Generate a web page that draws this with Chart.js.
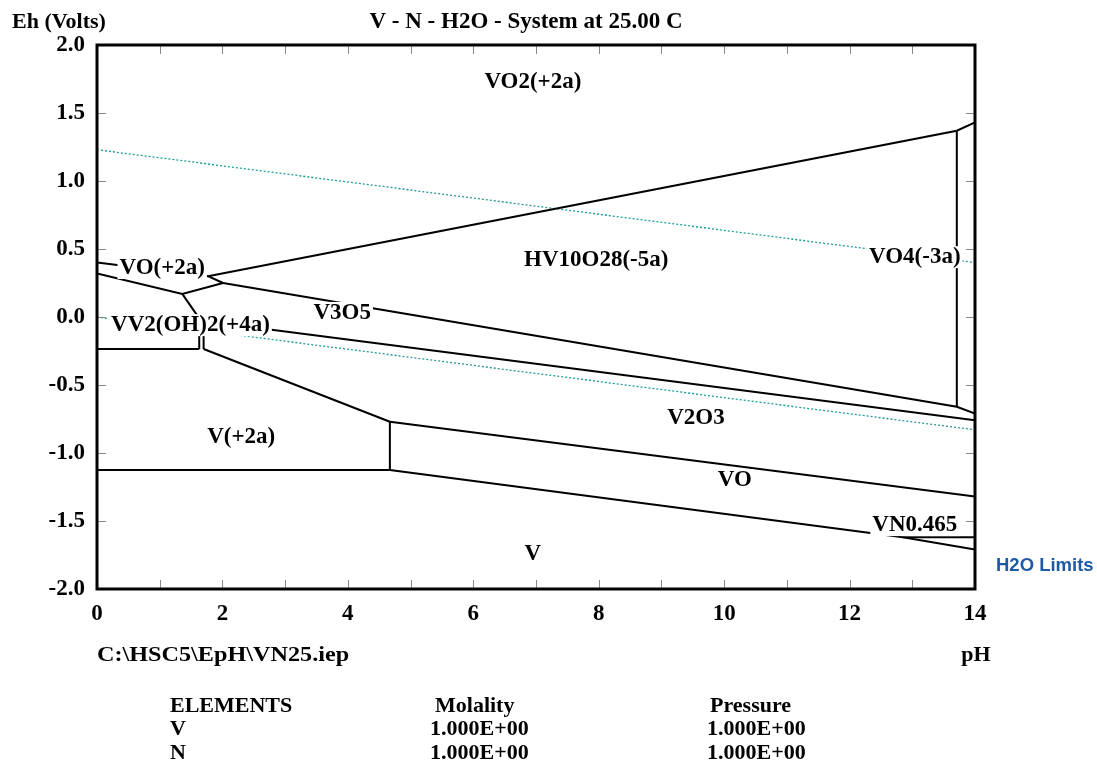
<!DOCTYPE html>
<html>
<head>
<meta charset="utf-8">
<script src="https://cdn.jsdelivr.net/npm/chart.js@4.4.0/dist/chart.umd.min.js"></script>
<style>
    html, body { margin: 0; padding: 0; background: #fff; }
    #wrap { width: 1097px; height: 763px; }
</style>
</head>
<body>
<div id="wrap"><canvas id="ephChart"></canvas></div>
<script>
// pH ticks / Eh ticks
var phTicks = [0, 2, 4, 6, 8, 10, 12, 14];
var ehTicks = [-2.0, -1.5, -1.0, -0.5, 0.0, 0.5, 1.0, 1.5, 2.0];

// stability boundaries, [pH, Eh]
var vo2_vo = [[0, 0.40], [1.77, 0.30]];
var vo2_hv10 = [[1.77, 0.30], [13.71, 1.37], [14, 1.43]];
var vo2_v3o5 = [[1.77, 0.30], [2.01, 0.25]];
var vo_v3o5 = [[0, 0.32], [1.36, 0.17], [2.01, 0.25]];
var hv10_v3o5 = [[2.01, 0.25], [13.71, -0.66], [14, -0.71]];
var hv10_vo4 = [[13.71, 1.37], [13.71, -0.66]];
var vo_vv2 = [[1.36, 0.17], [1.66, -0.03]];
var vv2_left = [[1.63, -0.03], [1.63, -0.235]];
var vv2_right = [[1.70, -0.03], [1.70, -0.235]];
var v3o5_v2o3 = [[1.70, -0.03], [14, -0.76]];
var vv2_v2a = [[0, -0.235], [1.63, -0.235]];
var v2a_v2o3 = [[1.70, -0.235], [4.67, -0.77]];
var v2a_vo = [[4.67, -0.77], [4.67, -1.125]];
var v2a_v = [[0, -1.125], [4.67, -1.125]];
var v2o3_vo = [[4.67, -0.77], [14, -1.32]];
var vo_v = [[4.67, -1.125], [12.85, -1.62], [14, -1.71]];
var vo_vn = [[12.85, -1.62], [14, -1.62]];

// water stability limits
var h2oUpper = [[0, 1.23], [14, 0.40]];
var h2oLower = [[0, 0.00], [14, -0.83]];

// species labels at [pH, Eh]
var speciesNames = ["VO2(+2a)", "HV10O28(-5a)", "VO4(-3a)", "VO(+2a)", "V3O5", "VV2(OH)2(+4a)", "V2O3", "V(+2a)", "VO", "VN0.465", "V"];
var speciesPos = [[6.95, 1.73], [7.96, 0.42], [13.04, 0.44], [1.04, 0.36], [3.91, 0.03], [1.49, -0.06], [9.55, -0.74], [2.30, -0.88], [10.17, -1.20], [13.04, -1.53], [6.95, -1.74]];

var boundaries = [vo2_vo, vo2_hv10, vo2_v3o5, vo_v3o5, hv10_v3o5, hv10_vo4, vo_vv2, vv2_left, vv2_right,
    v3o5_v2o3, vv2_v2a, v2a_v2o3, v2a_vo, v2a_v, v2o3_vo, vo_v, vo_vn];

var serif = '"Liberation Serif", "Times New Roman", serif';

function toXY(arr) {
    return arr.map(function(p){ return {x: p[0], y: p[1]}; });
}

var datasets = [];
boundaries.forEach(function(b){
    datasets.push({
        data: toXY(b),
        borderColor: "#000",
        borderWidth: 2,
        pointRadius: 0,
        showLine: true,
        fill: false
    });
});
[h2oUpper, h2oLower].forEach(function(b){
    datasets.push({
        data: toXY(b),
        borderColor: "#1f9a9a",
        borderWidth: 1.3,
        borderDash: [2, 2],
        pointRadius: 0,
        showLine: true,
        fill: false
    });
});

var labelPlugin = {
    id: "speciesLabels",
    afterDatasetsDraw: function(chart) {
        var ctx = chart.ctx, xs = chart.scales.x, ys = chart.scales.y;
        ctx.save();
        ctx.font = "bold 23px " + serif;
        ctx.textAlign = "center";
        ctx.textBaseline = "middle";
        speciesNames.forEach(function(name, i){
            var px = xs.getPixelForValue(speciesPos[i][0]);
            var py = ys.getPixelForValue(speciesPos[i][1]);
            var w = ctx.measureText(name).width;
            ctx.fillStyle = "#fff";
            ctx.fillRect(px - w / 2 - 2, py - 11, w + 4, 22);
            ctx.fillStyle = "#000";
            ctx.fillText(name, px, py);
        });
        ctx.restore();
    }
};

var framePlugin = {
    id: "frame",
    afterDraw: function(chart) {
        var ctx = chart.ctx, a = chart.chartArea, xs = chart.scales.x, ys = chart.scales.y;
        ctx.save();
        // inner tick marks
        ctx.strokeStyle = "#888";
        ctx.lineWidth = 1;
        ctx.beginPath();
        for (var ph = 1; ph < 14; ph++) {
            var x = Math.round(xs.getPixelForValue(ph)) + 0.5;
            ctx.moveTo(x, a.bottom); ctx.lineTo(x, a.bottom - 9);
            ctx.moveTo(x, a.top); ctx.lineTo(x, a.top + 9);
        }
        for (var e = -1.5; e < 2; e += 0.5) {
            var y = Math.round(ys.getPixelForValue(e)) + 0.5;
            ctx.moveTo(a.left, y); ctx.lineTo(a.left + 9, y);
            ctx.moveTo(a.right, y); ctx.lineTo(a.right - 9, y);
        }
        ctx.stroke();
        // frame
        ctx.strokeStyle = "#000";
        ctx.lineWidth = 3;
        ctx.strokeRect(a.left, a.top, a.right - a.left, a.bottom - a.top);

        // texts
        ctx.fillStyle = "#000";
        ctx.font = "bold 22px " + serif;
        ctx.textBaseline = "middle";
        ctx.textAlign = "left";
        ctx.fillText("Eh (Volts)", 12, 22);
        ctx.save();
        ctx.translate(97, 655);
        ctx.scale(1.1, 1);
        ctx.fillText("C:\\HSC5\\EpH\\VN25.iep", 0, 0);
        ctx.restore();
        ctx.textAlign = "center";
        ctx.font = "bold 23px " + serif;
        ctx.fillText("V - N - H2O - System at 25.00 C", 526, 22);
        ctx.font = "bold 22px " + serif;
        ctx.fillText("pH", 976, 655);

        ctx.textAlign = "left";
        ctx.fillText("ELEMENTS", 170, 706);
        ctx.fillText("Molality", 435, 706);
        ctx.fillText("Pressure", 710, 706);
        ctx.fillText("V", 170, 729);
        ctx.fillText("N", 170, 753);
        ctx.fillText("1.000E+00", 430, 729);
        ctx.fillText("1.000E+00", 707, 729);
        ctx.fillText("1.000E+00", 430, 753);
        ctx.fillText("1.000E+00", 707, 753);

        ctx.fillStyle = "#1f5aa6";
        ctx.font = 'bold 18.5px "Liberation Sans", Arial, sans-serif';
        ctx.fillText("H2O Limits", 996, 566);
        ctx.restore();
    }
};

var chart = new Chart(document.getElementById("ephChart").getContext("2d"), {
    type: "scatter",
    data: { datasets: datasets },
    options: {
        responsive: true,
        maintainAspectRatio: false,
        animation: false,
        events: [],
        layout: { padding: { top: 45, right: 122, left: 0, bottom: 0 } },
        plugins: { legend: { display: false }, tooltip: { enabled: false } },
        scales: {
            x: {
                type: "linear",
                min: 0, max: 14,
                afterBuildTicks: function(s){ s.ticks = phTicks.map(function(v){ return {value: v}; }); },
                afterFit: function(s){ s.height = 174; },
                grid: { display: false, drawTicks: false },
                border: { display: false },
                ticks: { padding: 11, color: "#000", font: { family: serif, size: 23, weight: "bold" }, maxRotation: 0 }
            },
            y: {
                type: "linear",
                min: -2, max: 2,
                afterBuildTicks: function(s){ s.ticks = ehTicks.map(function(v){ return {value: v}; }); },
                afterFit: function(s){ s.width = 97; },
                grid: { display: false, drawTicks: false },
                border: { display: false },
                ticks: {
                    padding: 12, color: "#000",
                    font: { family: serif, size: 23, weight: "bold" },
                    callback: function(v){ return v.toFixed(1); }
                }
            }
        }
    },
    plugins: [labelPlugin, framePlugin]
});
</script>
</body>
</html>
